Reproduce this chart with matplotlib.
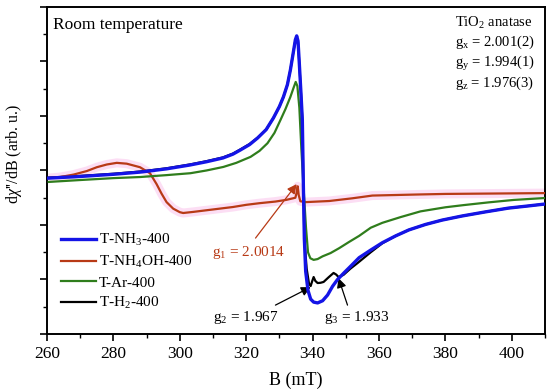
import matplotlib
matplotlib.use("Agg")
import matplotlib.pyplot as plt
from matplotlib.ticker import MultipleLocator

plt.rcParams['font.family'] = ['Liberation Serif', 'DejaVu Serif']
plt.rcParams['mathtext.fontset'] = 'custom'
plt.rcParams['mathtext.rm'] = 'Liberation Serif'
plt.rcParams['mathtext.it'] = 'Liberation Serif:italic'

# T-NH3-400 (blue)
b_nh3 = [260.5, 270, 280, 288, 296, 303, 308, 313, 316, 318.2, 321, 323.4, 326, 328.2,
         330, 331.2, 332.4, 333.3, 334.2, 334.8, 335.2, 335.6, 336, 336.5, 336.9, 337.2,
         337.5, 337.9, 338.6, 339.4, 340.3, 341.5, 343, 344.5, 346, 347.5, 349.5, 351.4,
         354, 357.5, 361, 365, 369, 374, 379, 385, 392, 399, 405, 410]
y_nh3 = [5.72, 5.78, 5.86, 5.94, 6.06, 6.2, 6.32, 6.46, 6.6, 6.75, 6.95, 7.19, 7.5, 7.93,
         8.35, 8.7, 9.15, 9.69, 10.35, 10.8, 10.94, 10.75, 9.9, 8.8, 7.85, 5.5,
         3.5, 2.3, 1.6, 1.28, 1.17, 1.14, 1.22, 1.43, 1.75, 2.0, 2.25, 2.48,
         2.8, 3.08, 3.35, 3.6, 3.82, 4.02, 4.18, 4.33, 4.48, 4.62, 4.7, 4.77]

# T-H2-400 (black)
b_h2 = [260.5, 270, 280, 288, 296, 303, 308, 313, 316, 318.2, 321, 323.4, 326, 328.2,
        330, 331.2, 332.4, 333.3, 334.2, 334.8, 335.2, 335.6, 336, 336.5, 336.9, 337.2,
        337.5, 338.2, 338.9, 339.4, 339.9, 340.3, 340.8, 341.5, 342.4, 343.3, 344.8,
        346.3, 347.1, 347.8, 349.3, 351.4, 353.5, 355.5, 357.5, 361, 365, 369, 374,
        379, 385, 392, 399, 405, 410]
y_h2 = [5.74, 5.8, 5.88, 5.96, 6.08, 6.22, 6.34, 6.48, 6.62, 6.77, 6.97, 7.2, 7.5, 7.93,
        8.35, 8.7, 9.15, 9.69, 10.35, 10.78, 10.9, 10.7, 9.9, 8.8, 7.85, 5.5,
        3.5, 2.4, 1.85, 1.76, 1.95, 2.09, 1.95, 1.87, 1.88, 1.91, 2.08,
        2.24, 2.18, 2.09, 2.17, 2.4, 2.6, 2.8, 3.0, 3.33, 3.6, 3.82, 4.02,
        4.18, 4.33, 4.48, 4.62, 4.7, 4.77]

# T-Ar-400 (green)
b_ar = [260.5, 270, 280, 288, 296, 303.2, 308, 313.1, 317, 321.3, 324, 326.4, 328.5,
        330.3, 331.8, 333.3, 334.3, 334.9, 335.4, 336, 336.6, 337.3, 338, 338.6, 339.3,
        340.3, 341.5, 343, 345.4, 348, 351, 354, 357.5, 361, 366.5, 372.5, 380, 385.5,
        393, 400.6, 410]
y_ar = [5.58, 5.65, 5.72, 5.76, 5.83, 5.9, 6.0, 6.13, 6.28, 6.5, 6.72, 7.0, 7.38,
        7.85, 8.25, 8.7, 9.05, 9.25, 9.1, 8.3, 6.8, 5.3, 3.9, 3.0, 2.78,
        2.72, 2.75, 2.85, 2.97, 3.15, 3.38, 3.6, 3.9, 4.08, 4.29, 4.5, 4.65, 4.73,
        4.83, 4.92, 4.99]

# T-NH4OH-400 (red)
b_oh = [260.5, 264, 268, 272, 275, 278, 281, 284, 288, 291, 293, 294.5, 296, 298, 300,
        301, 304, 308, 312, 316, 320, 324, 328.8, 332, 334.8, 335.2, 335.5, 335.8, 336.3,
        338, 345, 352, 358, 365, 372, 380, 390, 400, 410]
y_oh = [5.72, 5.76, 5.85, 5.98, 6.12, 6.22, 6.28, 6.25, 6.12, 5.9, 5.5, 5.15, 4.84, 4.6,
        4.47, 4.44, 4.48, 4.54, 4.6, 4.66, 4.74, 4.8, 4.86, 4.92, 5.0, 5.2, 5.42, 5.1, 4.87,
        4.84, 4.88, 4.98, 5.08, 5.1, 5.12, 5.14, 5.15, 5.16, 5.17]

labels = ['T-NH$_3$-400', 'T-NH$_4$OH-400', 'T-Ar-400', 'T-H$_2$-400']
colors = ['#1414e6', '#b83a16', '#2f7d1c', '#000000']

fig = plt.figure(figsize=(5.5, 3.9), dpi=100)
ax = fig.add_axes([0.0855, 0.1436, 0.9055, 0.8385])

ax.plot(b_oh, y_oh, color='#fcd6f2', lw=6.5, alpha=0.8, solid_capstyle='butt', zorder=1)
l2, = ax.plot(b_oh, y_oh, color=colors[1], lw=1.6, zorder=3, label=labels[1])
l4, = ax.plot(b_h2, y_h2, color=colors[3], lw=1.6, zorder=2, label=labels[3])
l3, = ax.plot(b_ar, y_ar, color=colors[2], lw=1.6, zorder=3, label=labels[2])
l1, = ax.plot(b_nh3, y_nh3, color=colors[0], lw=2.4, zorder=4, label=labels[0])

ax.set_xlim(260, 410)
ax.set_ylim(0, 12)
ax.xaxis.set_major_locator(MultipleLocator(20))
ax.xaxis.set_minor_locator(MultipleLocator(10))
ax.yaxis.set_major_locator(MultipleLocator(2))
ax.yaxis.set_minor_locator(MultipleLocator(1))
ax.set_yticklabels([])
ax.tick_params(which='major', length=5, width=1.2, labelsize=12.5, direction='out')
ax.tick_params(which='minor', length=3, width=1.0, direction='out')
for s in ax.spines.values():
    s.set_linewidth(1.4)

ax.set_xlabel('B (mT)', fontsize=13, labelpad=7)
ax.set_ylabel("d$\\chi$''/dB (arb. u.)", fontsize=11.5)
ax.yaxis.set_label_coords(-0.047, 0.55)

leg = ax.legend(handles=[l1, l2, l3, l4], loc='lower left', bbox_to_anchor=(0.0, 0.027),
                frameon=False, fontsize=11, handlelength=2.3, handletextpad=0.2,
                labelspacing=0.38)

ax.text(0.012, 0.968, 'Room temperature', transform=ax.transAxes, fontsize=12.5,
        va='top', ha='left')
ax.text(0.82, 0.975,
        'TiO$_2$ anatase\ng$_\\mathrm{x}$ = 2.001(2)\ng$_\\mathrm{y}$ = 1.994(1)\ng$_\\mathrm{z}$ = 1.976(3)',
        transform=ax.transAxes, fontsize=10.5, va='top', ha='left', linespacing=1.2)

head = dict(arrowstyle='-|>', lw=0.9, mutation_scale=14, shrinkA=0, shrinkB=0)
ax.annotate('', xy=(335.2, 5.5), xytext=(322.8, 3.52),
            arrowprops=dict(color=colors[1], **head))
ax.text(309.8, 3.0, 'g$_1$ = 2.0014', color=colors[1], fontsize=11, va='center', ha='left')
ax.annotate('', xy=(339.4, 1.72), xytext=(328.8, 1.06),
            arrowprops=dict(color='black', **head))
ax.text(310.1, 0.59, 'g$_2$ = 1.967', color='black', fontsize=11, va='center', ha='left')
ax.annotate('', xy=(347.8, 2.05), xytext=(350.5, 1.06),
            arrowprops=dict(color='black', **head))
ax.text(343.3, 0.62, 'g$_3$ = 1.933', color='black', fontsize=11, va='center', ha='left')

fig.savefig('out.png', dpi=100)
